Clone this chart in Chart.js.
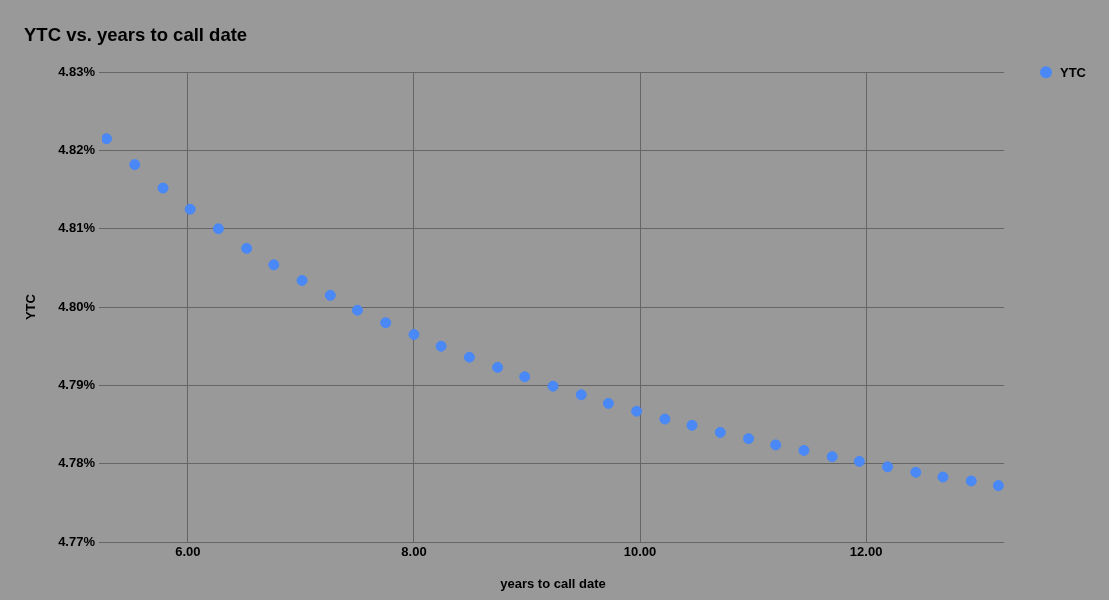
<!DOCTYPE html>
<html>
<head>
<meta charset="utf-8">
<title>YTC vs. years to call date</title>
<script src="https://cdn.jsdelivr.net/npm/chart.js@4.4.1/dist/chart.umd.min.js"></script>
<style>
  html, body { margin: 0; padding: 0; background: #999999; }
  #wrap { width: 1109px; height: 600px; }
</style>
</head>
<body>
<div id="wrap"><canvas id="myChart" width="1109" height="600"></canvas></div>
<script>
// years to call date
const years = [5.28, 5.53, 5.78, 6.02, 6.27, 6.52, 6.76, 7.01, 7.26, 7.50, 7.75,
  8.00, 8.24, 8.49, 8.74, 8.98, 9.23, 9.48, 9.72, 9.97, 10.22, 10.46, 10.71,
  10.96, 11.20, 11.45, 11.70, 11.94, 12.19, 12.44, 12.68, 12.93, 13.17]

// yield to call, in percent
const ytc = [4.8215, 4.8182, 4.8152, 4.8125, 4.8100, 4.8075, 4.8054, 4.8034,
  4.8015, 4.7996, 4.7980, 4.7965, 4.7950, 4.7936, 4.7923, 4.7911, 4.7899,
  4.7888, 4.7877, 4.7867, 4.7857, 4.7849, 4.7840, 4.7832, 4.7824, 4.7817,
  4.7809, 4.7803, 4.7796, 4.7789, 4.7783, 4.7778, 4.7772]

const xTicks = [6, 8, 10, 12]
const yTicks = [4.77, 4.78, 4.79, 4.80, 4.81, 4.82, 4.83]

const font = 'Liberation Sans, Arial, sans-serif'
const gridColor = '#666666'
const dotColor = '#4a88f5'

// legend drawn by hand so it sits level with the top gridline, like the sheet
const sideLegend = {
  id: 'sideLegend',
  afterDraw(chart) {
    const c = chart.ctx
    const area = chart.chartArea
    let y = area.top
    chart.data.datasets.forEach(ds => {
      c.save()
      c.fillStyle = ds.backgroundColor
      c.beginPath()
      c.arc(area.right + 42, y, 6, 0, Math.PI * 2)
      c.fill()
      c.fillStyle = '#000'
      c.font = 'bold 13px ' + font
      c.textBaseline = 'middle'
      c.fillText(ds.label, area.right + 56, y + 1)
      c.restore()
      y += 22
    })
  }
}

const ctx = document.getElementById('myChart')

new Chart(ctx, {
  type: 'scatter',
  data: {
    datasets: [{
      label: 'YTC',
      data: years.map((x, i) => ({ x: x, y: ytc[i] })),
      backgroundColor: dotColor,
      borderColor: dotColor,
      borderWidth: 1,
      pointRadius: 5,
      pointHoverRadius: 5
    }]
  },
  plugins: [sideLegend],
  options: {
    responsive: false,
    animation: false,
    layout: { padding: { left: 24, top: 25, right: 105, bottom: 8 } },
    plugins: {
      tooltip: { enabled: false },
      legend: { display: false },
      title: {
        display: true,
        text: 'YTC vs. years to call date',
        align: 'start',
        color: '#000',
        font: { family: font, size: 18.5, weight: 'bold' },
        padding: { top: 0, bottom: 25 }
      }
    },
    scales: {
      x: {
        type: 'linear',
        min: 5.24,
        max: 13.22,
        afterBuildTicks: (scale) => { scale.ticks = xTicks.map(v => ({ value: v })) },
        afterFit: (scale) => { scale.height = 50 },
        border: { display: false },
        grid: { color: gridColor, drawTicks: false },
        ticks: {
          color: '#000',
          padding: 3,
          font: { family: font, size: 13, weight: 'bold' },
          callback: (v) => v.toFixed(2)
        },
        title: {
          display: true,
          text: 'years to call date',
          color: '#000',
          font: { family: font, size: 13, weight: 'bold' },
          padding: { top: 0, bottom: 0 }
        }
      },
      y: {
        min: 4.77,
        max: 4.83,
        afterBuildTicks: (scale) => { scale.ticks = yTicks.map(v => ({ value: v })) },
        afterFit: (scale) => { scale.width = 78 },
        border: { display: false },
        grid: { color: gridColor, tickLength: 3 },
        ticks: {
          color: '#000',
          padding: 4,
          font: { family: font, size: 13, weight: 'bold' },
          callback: (v) => v.toFixed(2) + '%'
        },
        title: {
          display: true,
          text: 'YTC',
          color: '#000',
          font: { family: font, size: 13, weight: 'bold' },
          padding: { top: 0, bottom: 0 }
        }
      }
    }
  }
})
</script>
</body>
</html>
